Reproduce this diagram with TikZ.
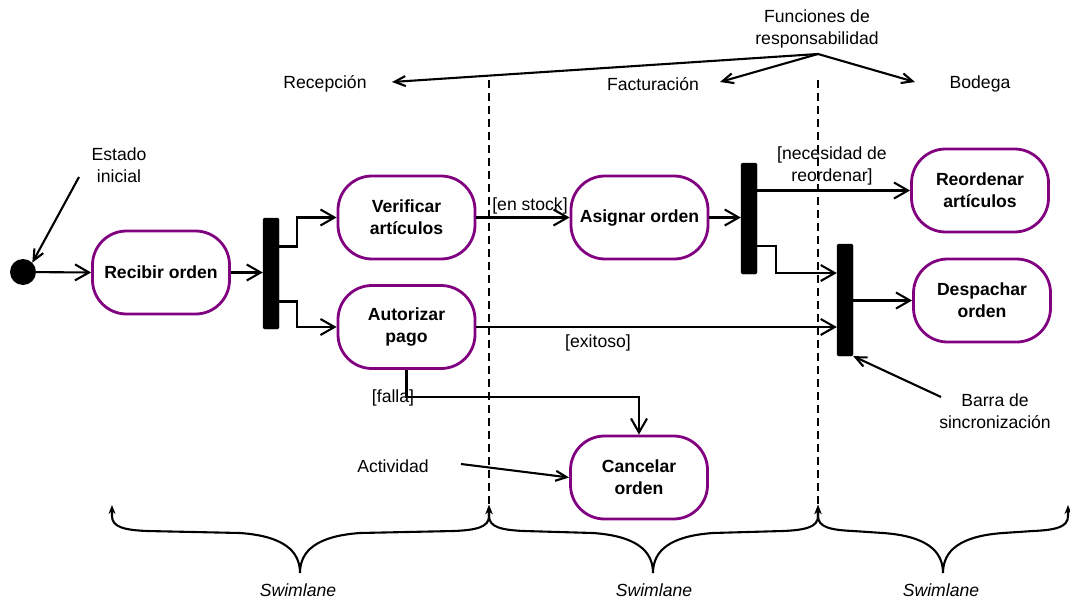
\documentclass[tikz,border=0pt]{standalone}
\usepackage{fontspec}
\setmainfont{Liberation Sans}
\usetikzlibrary{arrows.meta}
\definecolor{actpurple}{RGB}{128,0,128}

% curly brace under a swimlane: left end, middle, right end (x values)
\newcommand{\lanebrace}[3]{%
  \draw[bracestyle] (#1,505) -- (#1,516)
    .. controls (#1,527) and (#1+12,530) .. (#1+35,531)
    -- (#2-60,533)
    .. controls (#2-18,536) and (#2,550) .. (#2,573)
    .. controls (#2,550) and (#2+18,536) .. (#2+60,533)
    -- (#3-35,531)
    .. controls (#3-12,530) and (#3,527) .. (#3,516) -- (#3,505);
}

\begin{document}
\begin{tikzpicture}[x=1pt,y=-1pt,
  every node/.style={font=\fontsize{17.6}{22}\selectfont, align=center, inner sep=0pt},
  activity/.style={draw=actpurple, line width=2.8pt, rounded corners=34pt,
    minimum width=137pt, minimum height=83pt,
    font=\fontsize{17.6}{22}\selectfont\bfseries},
  syncbar/.style={fill=black, draw=black, rounded corners=1.5pt,
    minimum width=16pt, minimum height=111pt},
  initstate/.style={circle, fill=black, minimum size=26pt},
  flow/.style={line width=2.1pt,
    -{Straight Barb[length=14pt,width=16pt,line width=2.1pt]}},
  note/.style={line width=2.1pt,
    -{Straight Barb[length=11pt,width=10pt,line width=2.1pt]}},
  lanesep/.style={line width=2pt, dash pattern=on 8pt off 5pt},
  bracestyle/.style={line width=2.1pt,
    {Stealth[length=9pt,width=7pt]}-{Stealth[length=9pt,width=7pt]}},
  lbl/.style={font=\fontsize{17.6}{22}\selectfont\itshape}
]
\useasboundingbox (0,0) rectangle (1070,599);

% lane separators
\coordinate (sepA top) at (489,80);
\coordinate (sepA bot) at (489,505);
\coordinate (sepB top) at (818,80);
\coordinate (sepB bot) at (818,505);
\draw[lanesep] (sepA top) -- (sepA bot);
\draw[lanesep] (sepB top) -- (sepB bot);

% lane titles
\node (funciones) at (817,29) {Funciones de\\responsabilidad};
\node (recepcion) at (325,84) {Recepción};
\node (facturacion) at (653,84) {Facturación};
\node (bodega) at (980,84) {Bodega};
\coordinate (fsrc) at (818,54);
\coordinate (toRec) at (392,82);
\coordinate (toFac) at (720,82);
\coordinate (toBod) at (915,82);
\draw[note] (fsrc) -- (toRec);
\draw[note] (fsrc) -- (toFac);
\draw[note] (fsrc) -- (toBod);

% activities
\node[initstate] (init) at (23,272) {};
\node[activity] (recibir) at (161,272.5) {Recibir orden};
\node[activity] (verificar) at (406.5,217.5) {Verificar\\artículos};
\node[activity] (autorizar) at (406.5,327) {Autorizar\\pago};
\node[activity] (asignar) at (639.5,217.5) {Asignar orden};
\node[activity] (reordenar) at (980,190.5) {Reordenar\\artículos};
\node[activity] (despachar) at (982,300.5) {Despachar\\orden};
\node[activity] (cancelar) at (639,477.5) {Cancelar\\orden};

% synchronisation bars
\node[syncbar] (bar1) at (271,273.5) {};
\node[syncbar] (bar2) at (749,218.5) {};
\node[syncbar, minimum height=112pt] (bar3) at (845,300) {};

% transitions
\draw[flow] (init) -- (recibir.west);
\draw[flow] (recibir.east) -- (recibir.east -| bar1.west);
\draw[flow] ([yshift=27pt]bar1.east) -- ++(18,0) |- (verificar.west);
\draw[flow] ([yshift=-28pt]bar1.east) -- ++(18,0) |- (autorizar.west);
\draw[flow] (verificar.east) -- (asignar.west);
\draw[flow] (asignar.east) -- (asignar.east -| bar2.west);
\draw[flow] (reordenar.west -| bar2.east) -- (reordenar.west);
\draw[flow] ([yshift=-27.5pt]bar2.east) -- ++(19,0) |- ([yshift=27pt]bar3.west);
\draw[flow] (autorizar.east) -- (autorizar.east -| bar3.west);
\draw[flow] (bar3.east |- despachar.west) -- (despachar.west);
\draw[flow] (autorizar.south) -- ++(0,27.5) -| (cancelar.north);

% guard labels
\node (enstock) at (530,206) {[en stock]};
\node (exitoso) at (598,343) {[exitoso]};
\node (necesidad) at (832,166) {[necesidad de\\reordenar]};
\node (falla) at (393,398) {[falla]};

% annotations
\node (estado) at (119,165) {Estado\\inicial};
\coordinate (estadoFrom) at (79,177);
\draw[note] (estadoFrom) -- (init.north east);
\node (actividad) at (393,466) {Actividad};
\coordinate (actFrom) at (461,464);
\draw[note] (actFrom) -- (cancelar.west);
\node (barra) at (995,411) {Barra de\\sincronización};
\coordinate (barraFrom) at (941,397);
\draw[note] (barraFrom) -- (bar3.south east);

% swimlane braces
\lanebrace{112}{300}{489}
\lanebrace{489}{653}{818}
\lanebrace{818}{943}{1068}
\node[lbl] (lane1) at (298,590) {Swimlane};
\node[lbl] (lane2) at (654,590) {Swimlane};
\node[lbl] (lane3) at (941,590) {Swimlane};
\end{tikzpicture}
\end{document}
